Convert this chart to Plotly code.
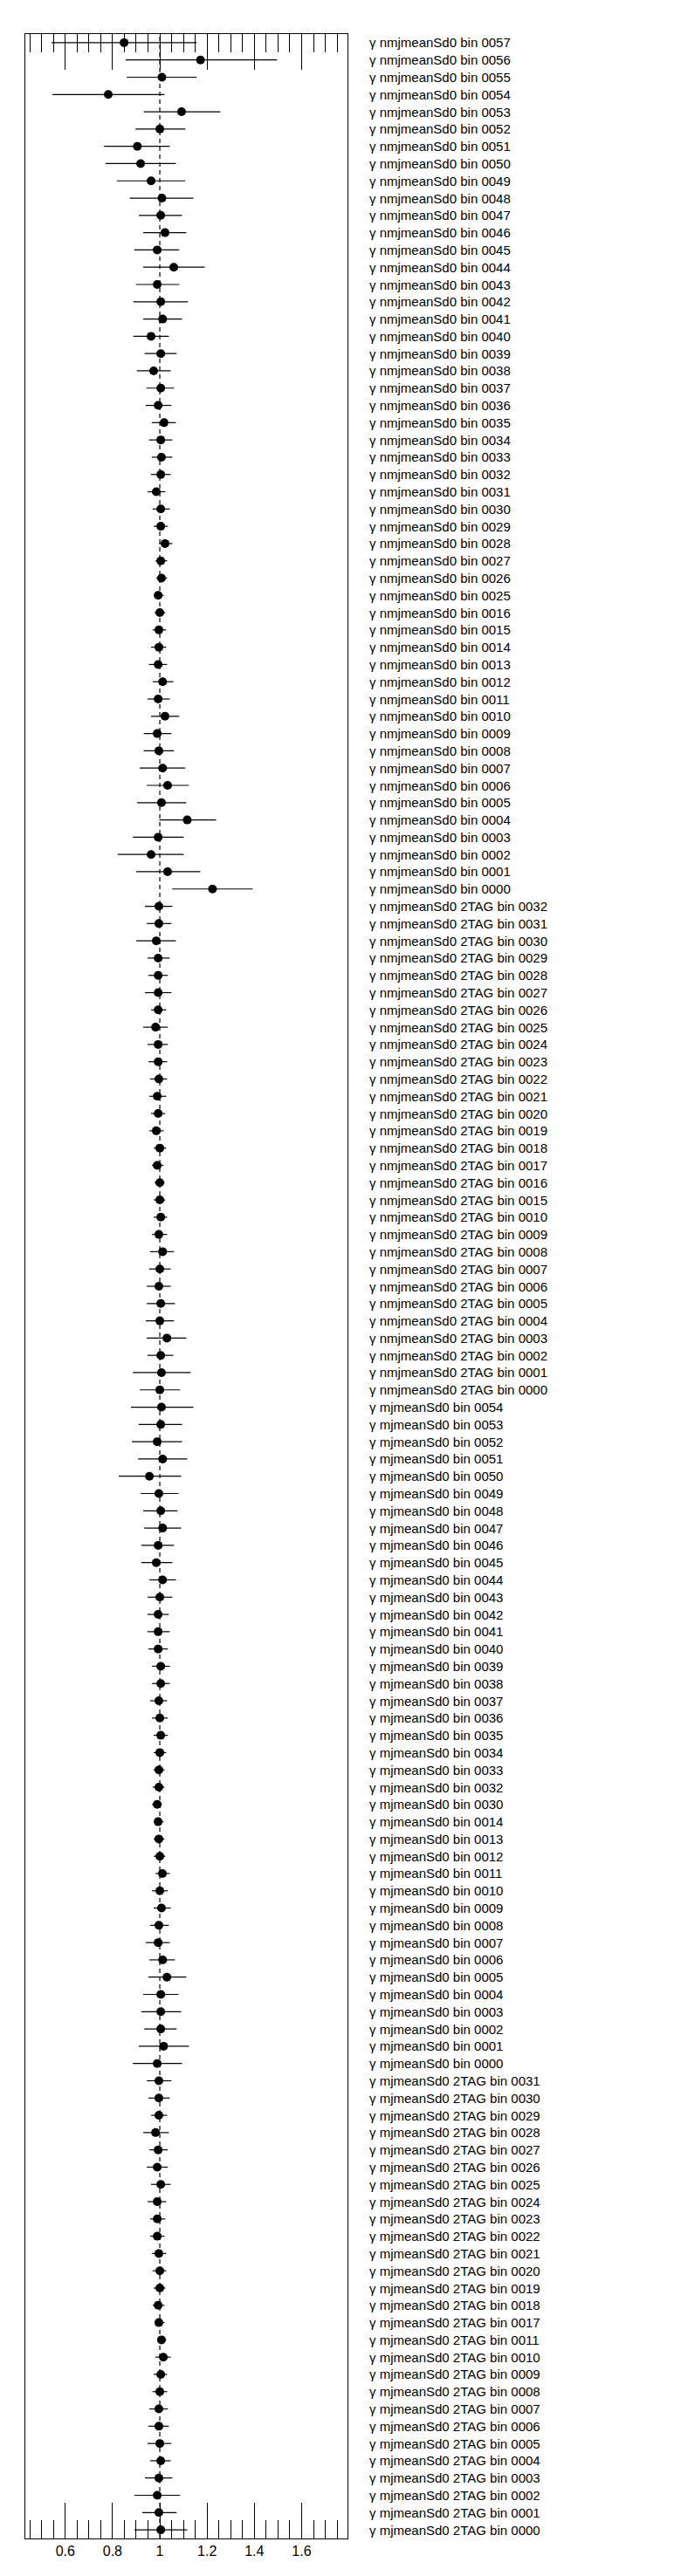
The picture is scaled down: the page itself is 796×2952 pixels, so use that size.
import plotly.graph_objects as go

# ---------------- data ----------------
nmj_bins = ["0057", "0056", "0055", "0054", "0053", "0052", "0051", "0050", "0049", "0048",
            "0047", "0046", "0045", "0044", "0043", "0042", "0041", "0040", "0039", "0038",
            "0037", "0036", "0035", "0034", "0033", "0032", "0031", "0030", "0029", "0028",
            "0027", "0026", "0025", "0016", "0015", "0014", "0013", "0012", "0011", "0010",
            "0009", "0008", "0007", "0006", "0005", "0004", "0003", "0002", "0001", "0000"]
nmj_val = [0.849, 1.172, 1.009, 0.782, 1.092, 1.000, 0.905, 0.919, 0.963, 1.009,
           1.004, 1.022, 0.989, 1.059, 0.989, 1.004, 1.012, 0.963, 1.004, 0.974,
           1.004, 0.993, 1.018, 1.004, 1.007, 1.004, 0.985, 1.004, 1.004, 1.022,
           1.004, 1.007, 0.993, 1.000, 0.996, 0.996, 0.993, 1.012, 0.993, 1.022,
           0.989, 0.996, 1.012, 1.033, 1.007, 1.116, 0.993, 0.963, 1.033, 1.223]
nmj_lo = [0.542, 0.855, 0.860, 0.546, 0.932, 0.897, 0.764, 0.770, 0.818, 0.873,
          0.911, 0.929, 0.892, 0.929, 0.899, 0.888, 0.929, 0.888, 0.936, 0.903,
          0.943, 0.940, 0.966, 0.954, 0.966, 0.962, 0.948, 0.970, 0.974, 0.996,
          0.982, 0.985, 0.974, 0.978, 0.970, 0.963, 0.954, 0.970, 0.948, 0.963,
          0.932, 0.932, 0.915, 0.945, 0.904, 0.998, 0.886, 0.822, 0.900, 1.052]
nmj_hi = [1.156, 1.496, 1.156, 1.020, 1.256, 1.108, 1.042, 1.068, 1.108, 1.142,
          1.094, 1.112, 1.082, 1.190, 1.082, 1.119, 1.094, 1.038, 1.071, 1.046,
          1.060, 1.049, 1.068, 1.053, 1.053, 1.046, 1.023, 1.042, 1.034, 1.053,
          1.031, 1.031, 1.016, 1.023, 1.027, 1.027, 1.031, 1.057, 1.042, 1.082,
          1.049, 1.060, 1.108, 1.123, 1.112, 1.238, 1.101, 1.101, 1.171, 1.393]

nmj2_bins = ["0032", "0031", "0030", "0029", "0028", "0027", "0026", "0025", "0024", "0023",
             "0022", "0021", "0020", "0019", "0018", "0017", "0016", "0015", "0010", "0009",
             "0008", "0007", "0006", "0005", "0004", "0003", "0002", "0001", "0000"]
nmj2_val = [0.996, 0.996, 0.985, 0.993, 0.993, 0.993, 0.993, 0.982, 0.993, 0.993,
            0.996, 0.989, 0.993, 0.985, 1.000, 0.989, 1.000, 1.000, 1.004, 0.996,
            1.012, 1.000, 0.996, 1.004, 1.000, 1.030, 1.004, 1.007, 1.000]
nmj2_lo = [0.937, 0.945, 0.900, 0.948, 0.952, 0.937, 0.963, 0.930, 0.948, 0.952,
           0.959, 0.956, 0.963, 0.956, 0.974, 0.967, 0.978, 0.974, 0.974, 0.967,
           0.959, 0.955, 0.945, 0.945, 0.941, 0.945, 0.948, 0.886, 0.915]
nmj2_hi = [1.053, 1.049, 1.068, 1.042, 1.034, 1.049, 1.027, 1.034, 1.034, 1.031,
           1.031, 1.027, 1.023, 1.016, 1.027, 1.016, 1.020, 1.023, 1.031, 1.031,
           1.060, 1.046, 1.046, 1.064, 1.060, 1.112, 1.057, 1.130, 1.086]

mj_bins = ["0054", "0053", "0052", "0051", "0050", "0049", "0048", "0047", "0046", "0045",
           "0044", "0043", "0042", "0041", "0040", "0039", "0038", "0037", "0036", "0035",
           "0034", "0033", "0032", "0030", "0014", "0013", "0012", "0011", "0010", "0009",
           "0008", "0007", "0006", "0005", "0004", "0003", "0002", "0001", "0000"]
mj_val = [1.007, 1.004, 0.989, 1.012, 0.956, 0.996, 1.004, 1.012, 0.993, 0.985,
          1.012, 1.000, 0.993, 0.993, 0.993, 1.004, 1.004, 0.996, 1.000, 1.004,
          1.000, 0.996, 0.996, 0.989, 0.993, 0.996, 1.000, 1.011, 1.000, 1.007,
          0.996, 0.993, 1.012, 1.030, 1.004, 1.004, 1.004, 1.016, 0.989]
mj_lo = [0.878, 0.911, 0.882, 0.908, 0.826, 0.919, 0.930, 0.934, 0.922, 0.922,
         0.956, 0.948, 0.948, 0.948, 0.952, 0.967, 0.967, 0.959, 0.967, 0.974,
         0.974, 0.974, 0.970, 0.967, 0.974, 0.974, 0.974, 0.982, 0.967, 0.974,
         0.959, 0.941, 0.956, 0.952, 0.930, 0.922, 0.934, 0.911, 0.886]
mj_hi = [1.142, 1.094, 1.094, 1.116, 1.090, 1.079, 1.075, 1.090, 1.060, 1.053,
         1.068, 1.053, 1.038, 1.042, 1.034, 1.042, 1.042, 1.031, 1.034, 1.034,
         1.027, 1.020, 1.020, 1.009, 1.016, 1.020, 1.023, 1.042, 1.034, 1.046,
         1.038, 1.042, 1.064, 1.112, 1.079, 1.090, 1.071, 1.123, 1.094]

mj2_bins = ["0031", "0030", "0029", "0028", "0027", "0026", "0025", "0024", "0023", "0022",
            "0021", "0020", "0019", "0018", "0017", "0011", "0010", "0009", "0008", "0007",
            "0006", "0005", "0004", "0003", "0002", "0001", "0000"]
mj2_val = [0.996, 0.996, 0.996, 0.982, 0.993, 0.989, 1.004, 0.989, 0.989, 0.989,
           0.996, 1.000, 1.000, 0.993, 0.996, 1.007, 1.015, 1.004, 1.000, 0.996,
           0.996, 1.000, 1.004, 0.996, 0.989, 0.996, 1.004]
mj2_lo = [0.945, 0.952, 0.963, 0.930, 0.956, 0.945, 0.963, 0.948, 0.959, 0.959,
          0.967, 0.970, 0.974, 0.970, 0.978, 0.989, 0.982, 0.974, 0.970, 0.956,
          0.952, 0.948, 0.959, 0.937, 0.893, 0.926, 0.893]
mj2_hi = [1.049, 1.042, 1.031, 1.038, 1.034, 1.034, 1.046, 1.027, 1.023, 1.020,
          1.027, 1.027, 1.023, 1.020, 1.020, 1.027, 1.046, 1.031, 1.031, 1.034,
          1.038, 1.049, 1.046, 1.053, 1.086, 1.071, 1.116]

groups = [
    ("γ nmjmeanSd0 bin ", nmj_bins, nmj_val, nmj_lo, nmj_hi),
    ("γ nmjmeanSd0 2TAG bin ", nmj2_bins, nmj2_val, nmj2_lo, nmj2_hi),
    ("γ mjmeanSd0 bin ", mj_bins, mj_val, mj_lo, mj_hi),
    ("γ mjmeanSd0 2TAG bin ", mj2_bins, mj2_val, mj2_lo, mj2_hi),
]

labels, vals, lo, hi = [], [], [], []
for prefix, bins, v, l, h in groups:
    labels += [prefix + b for b in bins]
    vals += v
    lo += l
    hi += h

n = len(labels)
rows = list(range(n))
err_plus = [h - v for h, v in zip(hi, vals)]
err_minus = [v - l for v, l in zip(vals, lo)]

# ---------------- figure ----------------
# page body has an 8px default margin, so the figure is sized/offset accordingly
W, H = 780, 2936
L, T = 21, 31
PW = 369
R = W - L - PW
B = 32
FONT = "Liberation Sans, Arial, Helvetica, sans-serif"

fig = go.Figure()
fig.add_trace(go.Scatter(
    x=vals, y=rows, mode="markers",
    marker=dict(size=10, color="black"),
    error_x=dict(type="data", symmetric=False, array=err_plus, arrayminus=err_minus,
                 color="black", thickness=1.2, width=0),
    showlegend=False, cliponaxis=True,
))

fig.add_shape(type="line", xref="x", yref="paper", x0=1, x1=1, y0=0, y1=1,
              line=dict(color="black", width=1.2, dash="5px,4px"), layer="below")

for i, lab in enumerate(labels):
    fig.add_annotation(xref="paper", yref="y", x=(412.5 - L) / PW, y=i,
                       text=lab, showarrow=False, xanchor="left", yanchor="middle",
                       font=dict(family=FONT, size=15, color="black"))

fig.update_layout(
    width=W, height=H, autosize=False,
    margin=dict(l=L, r=R, t=T, b=B, pad=0),
    plot_bgcolor="white", paper_bgcolor="white",
    font=dict(family=FONT, size=16, color="black"),
    xaxis=dict(range=[0.431, 1.794], tick0=0.4, dtick=0.2, ticks="inside", ticklen=41,
               tickwidth=1, tickcolor="black", showline=True, linecolor="black",
               linewidth=1, mirror="allticks", showgrid=False, zeroline=False,
               tickfont=dict(family=FONT, size=16, color="black"),
               minor=dict(dtick=0.05, tick0=0.4, ticks="inside", ticklen=21,
                          tickwidth=1, tickcolor="black", showgrid=False)),
    yaxis=dict(range=[n - 0.5, -0.5], showticklabels=False, ticks="", showline=True,
               linecolor="black", linewidth=1, mirror=True, showgrid=False,
               zeroline=False),
)

fig.write_html("out.html")
